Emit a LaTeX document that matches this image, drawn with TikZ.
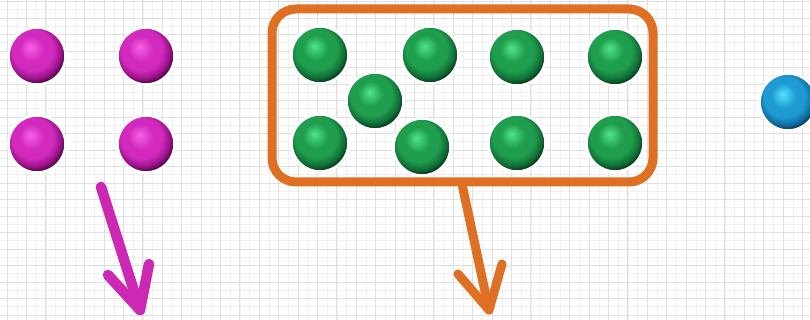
\documentclass[tikz,border=0pt]{standalone}
\usetikzlibrary{calc}
\definecolor{magL}{HTML}{F860E6}
\definecolor{magM}{HTML}{D22ABE}
\definecolor{magD}{HTML}{9A1288}
\definecolor{magE}{HTML}{5A0650}
\definecolor{grnL}{HTML}{4EE48C}
\definecolor{grnM}{HTML}{1F9E4E}
\definecolor{grnD}{HTML}{106E36}
\definecolor{grnE}{HTML}{08401E}
\definecolor{bluL}{HTML}{56E2FF}
\definecolor{bluM}{HTML}{1E9AD2}
\definecolor{bluD}{HTML}{0E6A9E}
\definecolor{bluE}{HTML}{073C60}
\definecolor{orng}{HTML}{DF6F22}
\definecolor{magArrow}{HTML}{CC28B4}
\definecolor{gridA}{HTML}{E0E0E0}
\definecolor{gridB}{HTML}{F0F0F0}
\pgfdeclareradialshading{magball}{\pgfqpoint{-6bp}{8bp}}{color(0bp)=(magL); color(11bp)=(magM); color(18bp)=(magM); color(24bp)=(magD); color(27bp)=(magE); color(50bp)=(magE)}
\pgfdeclareradialshading{grnball}{\pgfqpoint{-5bp}{8bp}}{color(0bp)=(grnL); color(11bp)=(grnM); color(18bp)=(grnM); color(24bp)=(grnD); color(27bp)=(grnE); color(50bp)=(grnE)}
\pgfdeclareradialshading{bluball}{\pgfqpoint{-5bp}{7bp}}{color(0bp)=(bluL); color(11bp)=(bluM); color(18bp)=(bluM); color(24bp)=(bluD); color(27bp)=(bluE); color(50bp)=(bluE)}
\tikzset{
  ballbase/.style={circle, minimum size=57pt, inner sep=0pt, outer sep=0pt, draw=white, line width=2.5pt},
  magsphere/.style={ballbase, shading=magball},
  grnsphere/.style={ballbase, shading=grnball},
  blusphere/.style={ballbase, shading=bluball},
  fatarrow/.style={line width=#1, line cap=round, line join=round},
}
\begin{document}
\begin{tikzpicture}[x=1pt,y=-1pt]
\useasboundingbox (0,0) rectangle (810,320);
\clip (0,0) rectangle (810,320);
\fill[white] (0,0) rectangle (810,320);
% grid
\foreach \i in {0,...,84} {
  \draw[gridB, line width=0.6pt] ({-2.6+\i*9.7},0) -- ({-2.6+\i*9.7},320);
}
\foreach \i in {0,...,40} {
  \draw[gridB, line width=0.6pt] (0,{1.5+\i*8.25}) -- (810,{1.5+\i*8.25});
}
\foreach \i in {0,...,42} {
  \draw[gridA, line width=0.9pt] ({7.1+\i*19.4},0) -- ({7.1+\i*19.4},320);
}
\foreach \i in {0,...,20} {
  \draw[gridA, line width=0.9pt] (0,{1.5+\i*16.5}) -- (810,{1.5+\i*16.5});
}
% magenta balls
\node[magsphere] (m1) at (37,56) {};
\node[magsphere] (m2) at (146,56) {};
\node[magsphere] (m3) at (37,144) {};
\node[magsphere] (m4) at (146,144) {};
% orange box
\node[draw=orng, line width=9pt, rounded corners=24pt, minimum width=381pt, minimum height=173pt, inner sep=0pt] (box) at (462.5,95.5) {};
% green balls
\node[grnsphere] (g1) at (320,55) {};
\node[grnsphere] (g2) at (430,55) {};
\node[grnsphere] (g3) at (517,57) {};
\node[grnsphere] (g4) at (615,57) {};
\node[grnsphere] (g5) at (375,101) {};
\node[grnsphere] (g6) at (320,143) {};
\node[grnsphere] (g7) at (422,147) {};
\node[grnsphere] (g8) at (517,143) {};
\node[grnsphere] (g9) at (615,143) {};
% blue ball
\node[blusphere] (b1) at (788,102) {};
% magenta arrow
\coordinate (mstart) at (101,187);
\coordinate (mtip) at (140,310);
\coordinate (mbl) at (108,275);
\coordinate (mbr) at (149,264);
\draw[magArrow, fatarrow=10.5pt] (mstart) -- (mtip);
\draw[magArrow, fatarrow=10.5pt] (mbl) -- (mtip) -- (mbr);
% orange arrow
\coordinate (otip) at (489,310);
\coordinate (obl) at (458,274);
\coordinate (obr) at (502,264);
\draw[orng, fatarrow=9pt] (box.south) -- (otip);
\draw[orng, fatarrow=9pt] (obl) -- (otip) -- (obr);
\end{tikzpicture}
\end{document}
